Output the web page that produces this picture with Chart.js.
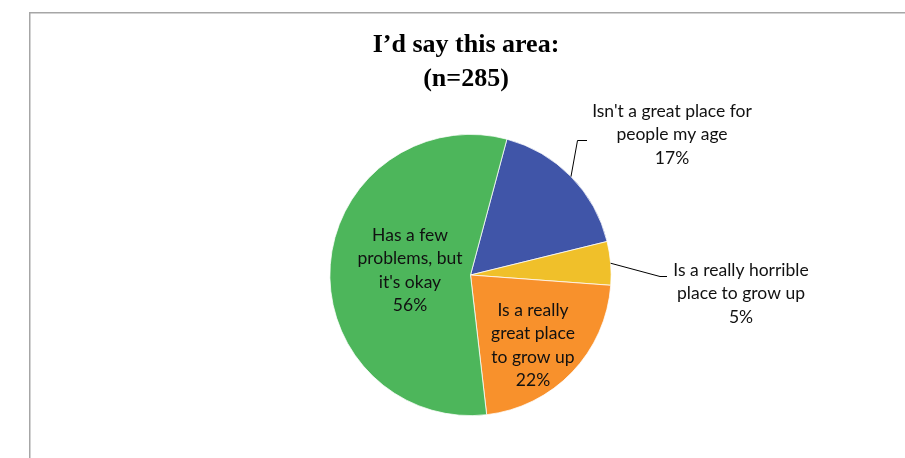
<!DOCTYPE html>
<html>
<head>
<meta charset="utf-8">
<script src="https://cdn.jsdelivr.net/npm/chart.js@4.4.1/dist/chart.umd.min.js"></script>
<style>
  html, body { margin: 0; padding: 0; background: #ffffff; }
  #wrap { width: 905px; height: 458px; position: relative; }
</style>
</head>
<body>
<div id="wrap"><canvas id="c" width="905" height="458"></canvas></div>
<script>
const titleLines = ["I\u2019d say this area:", "(n=285)"];
const categories = [
  "Isn't a great place for people my age",
  "Is a really horrible place to grow up",
  "Is a really great place to grow up",
  "Has a few problems, but it's okay"
];
const values = [17, 5, 22, 56];
const labelLines = [
  ["Isn't a great place for", "people my age"],
  ["Is a really horrible", "place to grow up"],
  ["Is a really", "great place", "to grow up"],
  ["Has a few", "problems, but", "it's okay"]
];
const colors = ["#4055A8", "#F0C02A", "#F8912C", "#4DB65B"];

const LABEL_FONT = '17.5px Lato, "Open Sans", sans-serif';
const LINE_H = 23.3;

const decor = {
  id: 'decor',
  beforeDraw(chart) {
    const ctx = chart.ctx;
    ctx.save();
    ctx.fillStyle = '#ffffff';
    ctx.fillRect(0, 0, chart.width, chart.height);
    ctx.strokeStyle = '#A6A6A6';
    ctx.lineWidth = 1.5;
    ctx.strokeRect(29.75, 12.75, 1000, 1000);
    ctx.restore();
  },
  afterDatasetsDraw(chart) {
    const ctx = chart.ctx;
    const meta = chart.getDatasetMeta(0);
    ctx.save();
    // title
    ctx.fillStyle = '#000000';
    ctx.textAlign = 'center';
    ctx.textBaseline = 'alphabetic';
    ctx.font = 'bold 26px "Liberation Serif", "DejaVu Serif", serif';
    ctx.fillText(titleLines[0], 466, 52);
    ctx.fillText(titleLines[1], 466, 86);

    ctx.font = LABEL_FONT;
    ctx.fillStyle = '#111111';
    const total = values.reduce((a, b) => a + b, 0);
    const pct = values.map(v => Math.round(v / total * 100) + '%');

    // label positions (centre x, first baseline y)
    const pos = [
      {x: 672, y: 117},
      {x: 741, y: 276},
      {x: 533, y: 316},
      {x: 410, y: 241}
    ];
    values.forEach((v, i) => {
      const lines = labelLines[i].concat([pct[i]]);
      lines.forEach((t, k) => ctx.fillText(t, pos[i].x, pos[i].y + k * LINE_H));
    });

    // leader lines
    ctx.strokeStyle = '#000000';
    ctx.lineWidth = 1;
    const arcPt = (i, r) => {
      const a = meta.data[i];
      const p = a.getProps(['x', 'y', 'startAngle', 'endAngle', 'outerRadius'], true);
      const mid = (p.startAngle + p.endAngle) / 2;
      return {x: p.x + Math.cos(mid) * (p.outerRadius + r), y: p.y + Math.sin(mid) * (p.outerRadius + r)};
    };
    // blue
    let s = arcPt(0, 0);
    ctx.beginPath();
    ctx.moveTo(s.x, s.y);
    ctx.lineTo(577.5, 140.5);
    ctx.lineTo(587, 140.5);
    ctx.stroke();
    // yellow
    s = arcPt(1, 0);
    ctx.beginPath();
    ctx.moveTo(s.x, s.y);
    ctx.lineTo(660, 276.5);
    ctx.lineTo(667, 276.5);
    ctx.stroke();
    ctx.restore();
  }
};

new Chart(document.getElementById('c'), {
  type: 'pie',
  data: {
    labels: categories,
    datasets: [{
      data: values,
      backgroundColor: colors,
      borderColor: '#ffffff',
      borderWidth: 0.75
    }]
  },
  options: {
    responsive: false,
    animation: false,
    rotation: 15,
    layout: { padding: { left: 329, right: 293, top: 134, bottom: 42 } },
    plugins: {
      legend: { display: false },
      tooltip: { enabled: false },
      title: { display: false }
    }
  },
  plugins: [decor]
});
</script>
</body>
</html>
